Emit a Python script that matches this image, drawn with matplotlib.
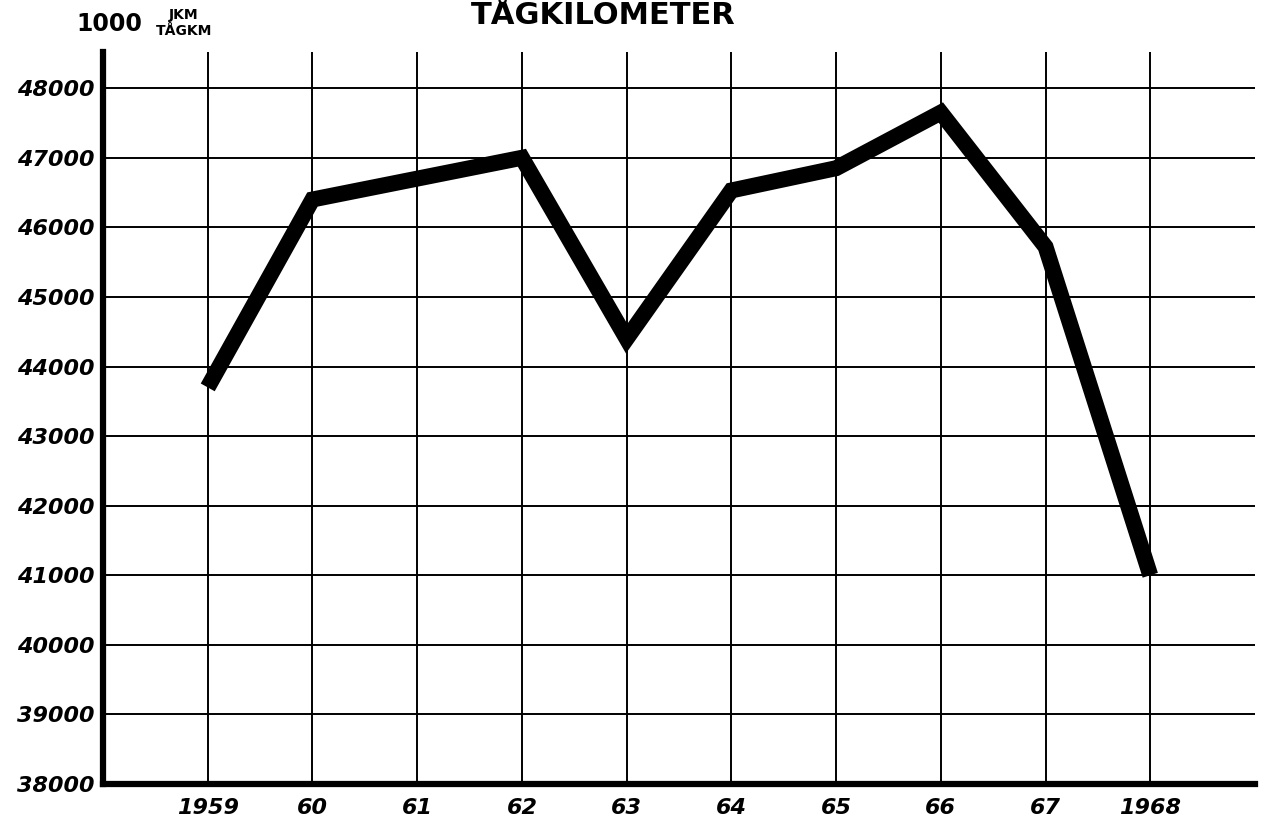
import matplotlib
matplotlib.use("Agg")
import matplotlib.pyplot as plt
import numpy as np

years = [1959, 1960, 1961, 1962, 1963, 1964, 1965, 1966, 1967, 1968]
year_labels = ["1959", "60", "61", "62", "63", "64", "65", "66", "67", "1968"]
train_km = [43700, 46400, 46700, 47000, 44400, 46530, 46850, 47650, 45720, 41000]
y_ticks = [38000, 39000, 40000, 41000, 42000, 43000, 44000, 45000, 46000, 47000, 48000]
y_labels = [str(v) for v in y_ticks]
title = "TÅGKILOMETER"
unit_main = "1000"
unit_top = "JKM"
unit_bottom = "TÅGKM"

fig = plt.figure(figsize=(12.66, 8.26), dpi=100)
ax = fig.add_axes([103 / 1266, 1 - 784 / 826, (1255 - 103) / 1266, (784 - 52) / 826])
ax.set_xlim(1958, 1969)
ax.set_ylim(38000, 48520)

ax.set_xticks(years)
ax.set_xticklabels(year_labels)
ax.set_yticks(y_ticks)
ax.set_yticklabels(y_labels)
ax.grid(True, color="black", linewidth=1.4)
ax.set_axisbelow(True)

for lab in ax.get_xticklabels() + ax.get_yticklabels():
    lab.set_fontfamily("DejaVu Sans")
    lab.set_fontstyle("italic")
    lab.set_fontweight("bold")
    lab.set_fontsize(16)
ax.tick_params(length=0, pad=6)
ax.tick_params(axis="x", pad=10)

for s in ["top", "right"]:
    ax.spines[s].set_visible(False)
ax.spines["left"].set_linewidth(4.5)
ax.spines["bottom"].set_linewidth(4.5)

ax.plot(years, train_km, color="black", linewidth=11.5, solid_joinstyle="miter",
        solid_capstyle="butt", zorder=5)

fig.text(603 / 1266, 1 - 1 / 826, title, ha="center", va="top",
         fontsize=22, fontweight="bold", family="DejaVu Sans")
fig.text(76 / 1266, 1 - 24 / 826, unit_main, ha="left", va="center",
         fontsize=17, fontweight="bold", family="DejaVu Sans")
fig.text(184 / 1266, 1 - 15 / 826, unit_top, ha="center", va="center",
         fontsize=10, fontweight="bold", family="DejaVu Sans")
fig.text(184 / 1266, 1 - 31 / 826, unit_bottom, ha="center", va="center",
         fontsize=10, fontweight="bold", family="DejaVu Sans")

fig.savefig("out.png", dpi=100, facecolor="white")
